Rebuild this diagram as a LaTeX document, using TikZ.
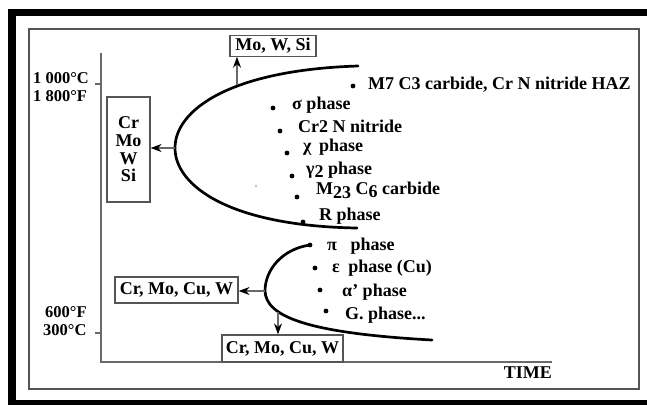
\documentclass[tikz,border=0pt]{standalone}
\usepackage{fontspec}
\setmainfont{Liberation Serif}
\usetikzlibrary{arrows.meta,positioning,calc}
\definecolor{framegray}{RGB}{85,85,85}
\definecolor{axisgray}{RGB}{105,105,105}
\definecolor{specgray}{RGB}{170,170,170}

\begin{document}
\begin{tikzpicture}[x=1pt, y=-1pt,
    every node/.style={font=\fontsize{18}{17.7}\selectfont\bfseries, inner sep=0pt},
    elembox/.style={draw=framegray, line width=1.2pt, inner sep=2.5pt, align=center},
    phase/.style={anchor=west},
    axislbl/.style={anchor=west, font=\fontsize{16.5}{16.5}\selectfont\bfseries},
    pdot/.style={circle, fill=black, minimum size=4.8pt, inner sep=0pt},
    curve/.style={line width=2.7pt, line cap=round},
    flow/.style={draw=axisgray, line width=1.2pt, -{Stealth[black, length=11pt, width=8pt]}}]

    \useasboundingbox (0,0) rectangle (647,405);

    % ---- Khung ngoài ----
    \fill[white] (0,0) rectangle (647,405);
    \fill[black] (8,9) rectangle (647,405);
    \fill[white] (16,16) rectangle (647,400);
    \draw[framegray, line width=2pt] (29,29) rectangle (639,389);

    % ---- Trục ----
    \coordinate (ytop) at (101,53);
    \coordinate (origin) at (101,362);
    \coordinate (xend) at (552,362);
    \draw[axisgray, line width=1.5pt] (ytop) -- (origin) -- (xend);
    \draw[axisgray, line width=1.2pt] (95,84) -- (101,84);
    \draw[axisgray, line width=1.2pt] (95,333) -- (101,333);

    \node[axislbl] (t1000c) at (33,78) {1 000°C};
    \node[axislbl] (t1800f) at (33,96) {1 800°F};
    \node[axislbl] (t600f) at (45,312) {600°F};
    \node[axislbl] (t300c) at (43,330) {300°C};
    \node[anchor=east] (time) at (552,373) {TIME};

    % ---- Hộp nguyên tố ----
    \node[elembox, minimum width=86pt, minimum height=20pt] (mws) at (273,46) {Mo, W, Si};
    \node[elembox, minimum width=43pt, minimum height=105pt] (crbox) at (128.5,149.5) {Cr\\Mo\\W\\Si};
    \node[elembox, minimum width=123pt, minimum height=26pt] (lowleft) at (176.5,290) {Cr, Mo, Cu, W};
    \node[elembox, minimum width=121pt, minimum height=27pt] (lowdown) at (282.5,348.5) {Cr, Mo, Cu, W};

    % ---- Đường cong trên ----
    \coordinate (upA) at (358,66);
    \coordinate (upN) at (175,148);
    \coordinate (upB) at (357,228);
    \coordinate (upT) at (237,85);
    \draw[curve] (upA) .. controls (230,70) and (175,110) .. (upN)
                 .. controls (175,186) and (230,226) .. (upB);

    % ---- Đường cong dưới ----
    \coordinate (loA) at (310,245);
    \coordinate (loN) at (265,291);
    \coordinate (loB) at (432,340);
    \coordinate (loT) at (278,312);
    \draw[curve] (loA) .. controls (282,249) and (265,270) .. (loN)
                 .. controls (266,316) and (305,333) .. (loB);

    % ---- Mũi tên ----
    \draw[flow] (upT) -- (upT |- mws.south);
    \draw[flow] (upN) -- (crbox.east |- upN);
    \draw[flow] (loN) -- (lowleft.east |- loN);
    \draw[flow] (loT) -- (loT |- lowdown.north);

    % ---- Pha nhiệt độ cao ----
    \node[pdot] (dm7) at (353,86) {};
    \node[phase] (lm7) at (368,85) {M7 C3 carbide, Cr N nitride HAZ};
    \node[pdot] (dsig) at (273,108) {};
    \node[phase] (lsig) at (292,105) {σ phase};
    \node[pdot] (dcr2) at (280,131) {};
    \node[phase] (lcr2) at (298,126) {Cr2 N nitride};
    \node[pdot] (dchi) at (287,153) {};
    \node[phase] (lchi) at (303,147) {χ\hspace{3pt} phase};
    \node[pdot] (dgam) at (292,176) {};
    \node[phase] (lgam) at (306,170) {γ\raisebox{-0.4ex}{2} phase};
    \node[pdot] (dm23) at (297,197) {};
    \node[phase] (lm23) at (316,190) {M\raisebox{-0.45ex}{23} C\raisebox{-0.35ex}{6} carbide};
    \node[pdot] (dr) at (303,222) {};
    \node[phase] (lr) at (319,216) {R phase};
    \fill[specgray] (256,186) circle (1.2pt);

    % ---- Pha nhiệt độ thấp ----
    \node[pdot] (dpi) at (loA) {};
    \node[phase] (lpi) at (327,246) {π\hspace{9pt} phase};
    \node[pdot] (deps) at (315,268) {};
    \node[phase] (leps) at (332,268) {ε\hspace{4pt} phase (Cu)};
    \node[pdot] (dalp) at (320,290) {};
    \node[phase] (lalp) at (342,292) {α' phase};
    \node[pdot] (dg) at (326,311) {};
    \node[phase] (lg) at (345,315) {G. phase...};

\end{tikzpicture}
\end{document}
